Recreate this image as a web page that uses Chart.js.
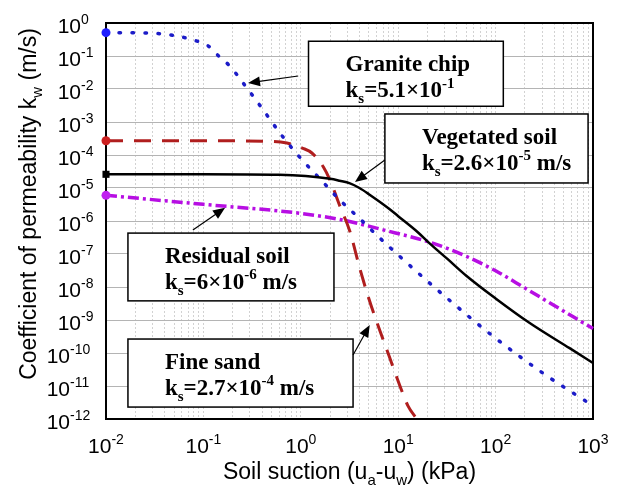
<!DOCTYPE html>
<html>
<head>
<meta charset="utf-8">
<title>Coefficient of permeability vs soil suction</title>
<script src="https://cdn.jsdelivr.net/npm/chart.js@4.4.1/dist/chart.umd.min.js"></script>
<style>
  body { margin: 0; background: #fff; }
  canvas { display: block; }
</style>
</head>
<body>
<canvas id="permChart" width="619" height="486"></canvas>
<script>
// suction in kPa, permeability in m/s
const graniteSuction = [0.01, 0.025, 0.05, 0.08, 0.11, 0.14, 0.19, 0.25, 0.4, 0.63, 1, 1.6, 2.5, 4, 6.3, 10, 32, 100, 316, 1000];
const granitePerm = [0.51, 0.50, 0.42, 0.30, 0.21, 0.107, 0.047, 0.0166, 0.0026, 4.1e-4, 7.9e-5, 1.8e-5, 4.4e-6, 1.2e-6, 3.3e-7, 9.3e-8, 4.5e-9, 2.8e-10, 2.3e-11, 2.5e-12];

const sandSuction = [0.01, 0.1, 0.5, 0.72, 1.05, 1.3, 1.7, 2.0, 2.5, 3.2, 4.0, 5.0, 6.3, 8.0, 10, 12.6, 15.5];
const sandPerm = [2.7e-4, 2.7e-4, 2.6e-4, 2.3e-4, 1.6e-4, 1.15e-4, 4.4e-5, 1.7e-5, 3.0e-6, 4.7e-7, 4.0e-8, 4.4e-9, 6.0e-10, 8.7e-11, 1.4e-11, 2.5e-12, 1.0e-12];

const vegSuction = [0.01, 0.1, 0.6, 2, 2.5, 3.2, 4, 5, 8, 10, 16, 21, 32, 50, 100, 224, 575, 1000];
const vegPerm = [2.6e-5, 2.6e-5, 2.5e-5, 1.9e-5, 1.66e-5, 1.38e-5, 1.0e-5, 6.5e-6, 2.4e-6, 1.4e-6, 4.5e-7, 2.1e-7, 7.1e-8, 2.2e-8, 4.5e-9, 8.1e-10, 1.4e-10, 5.0e-11];

const residualSuction = [0.01, 0.1, 1, 2.7, 7, 23, 50, 100, 200, 400, 1000];
const residualPerm = [6.0e-6, 3.2e-6, 1.7e-6, 1.07e-6, 5.4e-7, 2.1e-7, 8.5e-8, 3.1e-8, 9.3e-9, 2.75e-9, 5.5e-10];

const xTickExps = [-2, -1, 0, 1, 2, 3];
const yTickExps = [0, -1, -2, -3, -4, -5, -6, -7, -8, -9, -10, -11, -12];

const SANS = '"Liberation Sans", Arial, sans-serif';
const SERIF = '"Liberation Serif", "Times New Roman", serif';

// label boxes and arrows, placed in data units
const notes = [
    {
        box: [1.2, 0.28, 120, 3e-3], from: [0.94, 0.0248], to: [0.287, 0.0152],
        lines: [[{ t: 'Granite chip' }], [{ t: 'k' }, { t: 's', sub: true }, { t: '=5.1×10' }, { t: '-1', sup: true }]]
    },
    {
        box: [7.3, 1.75e-3, 890, 1.42e-5], from: [7.3, 7.1e-5], to: [3.6, 1.52e-5],
        lines: [[{ t: 'Vegetated soil' }], [{ t: 'k' }, { t: 's', sub: true }, { t: '=2.6×10' }, { t: '-5', sup: true }, { t: ' m/s' }]]
    },
    {
        box: [0.0168, 4.3e-7, 2.19, 3.8e-9], from: [0.078, 5.3e-7], to: [0.167, 2.5e-6],
        lines: [[{ t: 'Residual soil' }], [{ t: 'k' }, { t: 's', sub: true }, { t: '=6×10' }, { t: '-6', sup: true }, { t: ' m/s' }]]
    },
    {
        box: [0.0168, 2.65e-10, 3.44, 2.3e-12], from: [3.44, 8.7e-11], to: [5.1, 7.0e-10],
        lines: [[{ t: 'Fine sand' }], [{ t: 'k' }, { t: 's', sub: true }, { t: '=2.7×10' }, { t: '-4', sup: true }, { t: ' m/s' }]]
    }
];

function segFont(seg, size, weight, family) {
    const s = (seg.sub || seg.sup) ? Math.round(size * 0.65) : size;
    return `${weight} ${s}px ${family}`;
}

function richWidth(ctx, segs, size, weight, family) {
    return segs.reduce((w, seg) => {
        ctx.font = segFont(seg, size, weight, family);
        return w + ctx.measureText(seg.t).width;
    }, 0);
}

function drawRich(ctx, segs, x, y, size, weight, family) {
    segs.forEach(seg => {
        ctx.font = segFont(seg, size, weight, family);
        const dy = seg.sub ? size * 0.25 : seg.sup ? -size * 0.42 : 0;
        ctx.fillText(seg.t, x, y + dy);
        x += ctx.measureText(seg.t).width;
    });
}

function drawArrow(ctx, x1, y1, x2, y2) {
    const ang = Math.atan2(y2 - y1, x2 - x1);
    const len = 12, half = 5;
    const c = Math.cos(ang), s = Math.sin(ang);
    ctx.lineWidth = 1.2;
    ctx.beginPath();
    ctx.moveTo(x1, y1);
    ctx.lineTo(x2 - c * len * 0.8, y2 - s * len * 0.8);
    ctx.stroke();
    ctx.beginPath();
    ctx.moveTo(x2, y2);
    ctx.lineTo(x2 - c * len + s * half, y2 - s * len - c * half);
    ctx.lineTo(x2 - c * len - s * half, y2 - s * len + c * half);
    ctx.closePath();
    ctx.fill();
}

function isDecade(v) {
    const l = Math.log10(v);
    return Math.abs(l - Math.round(l)) < 1e-6;
}

function isWholeStep(v) {
    const m = v / Math.pow(10, Math.floor(Math.log10(v) + 1e-9));
    return Math.abs(m - Math.round(m)) < 1e-6;
}

const permDecor = {
    id: 'permDecor',
    beforeDatasetsDraw(chart) {
        const { ctx, chartArea: a } = chart;
        ctx.save();
        ctx.strokeStyle = '#000';
        ctx.lineWidth = 2;
        ctx.strokeRect(a.left, a.top, a.right - a.left, a.bottom - a.top);
        ctx.restore();
    },
    afterDatasetsDraw(chart) {
        const { ctx } = chart;
        const xs = chart.scales.x, ys = chart.scales.y;
        ctx.save();
        ctx.textBaseline = 'alphabetic';
        ctx.textAlign = 'left';
        notes.forEach(n => {
            const l = xs.getPixelForValue(n.box[0]);
            const t = ys.getPixelForValue(n.box[1]);
            const r = xs.getPixelForValue(n.box[2]);
            const b = ys.getPixelForValue(n.box[3]);
            ctx.fillStyle = '#fff';
            ctx.fillRect(l, t, r - l, b - t);
            ctx.strokeStyle = '#000';
            ctx.lineWidth = 1.5;
            ctx.strokeRect(l, t, r - l, b - t);
            ctx.fillStyle = '#000';
            n.lines.forEach((segs, i) => drawRich(ctx, segs, l + 37, t + 30 + i * 26, 23, 'bold', SERIF));
            drawArrow(ctx,
                xs.getPixelForValue(n.from[0]), ys.getPixelForValue(n.from[1]),
                xs.getPixelForValue(n.to[0]), ys.getPixelForValue(n.to[1]));
        });
        ctx.restore();
    },
    afterDraw(chart) {
        const { ctx, chartArea: a } = chart;
        const xs = chart.scales.x, ys = chart.scales.y;
        ctx.save();
        ctx.fillStyle = '#000';
        ctx.textBaseline = 'alphabetic';
        ctx.textAlign = 'left';

        ctx.font = `21px ${SANS}`;
        const w10 = ctx.measureText('10').width;
        yTickExps.forEach(e => {
            const py = ys.getPixelForValue(Math.pow(10, e));
            const x0 = a.left - 14 - w10 - 11 * String(Math.abs(e)).length;
            drawRich(ctx, [{ t: '10' }, { t: String(e), sup: true }], x0, py + 9.5, 21, 'normal', SANS);
        });
        xTickExps.forEach(e => {
            const px = xs.getPixelForValue(Math.pow(10, e));
            const segs = [{ t: '10' }, { t: String(e), sup: true }];
            const w = richWidth(ctx, segs, 21, 'normal', SANS);
            drawRich(ctx, segs, px - w / 2, a.bottom + 34, 21, 'normal', SANS);
        });

        const xTitle = [{ t: 'Soil suction (u' }, { t: 'a', sub: true }, { t: '-u' }, { t: 'w', sub: true }, { t: ') (kPa)' }];
        const xw = richWidth(ctx, xTitle, 23, 'normal', SANS);
        drawRich(ctx, xTitle, (a.left + a.right) / 2 - xw / 2, a.bottom + 60, 23, 'normal', SANS);

        const yTitle = [{ t: 'Coefficient of permeability k' }, { t: 'w', sub: true }, { t: ' (m/s)' }];
        const yw = richWidth(ctx, yTitle, 23, 'normal', SANS);
        ctx.translate(a.left - 70, (a.top + a.bottom) / 2 - 17);
        ctx.rotate(-Math.PI / 2);
        drawRich(ctx, yTitle, -yw / 2, 0, 23, 'normal', SANS);
        ctx.restore();
    }
};

function series(xs, ys, style) {
    return Object.assign({
        data: xs.map((x, i) => ({ x: x, y: ys[i] })),
        fill: false,
        clip: false,
        cubicInterpolationMode: 'monotone',
        pointRadius: c => (c.dataIndex === 0 ? 4.5 : 0),
        pointBorderWidth: 0
    }, style);
}

const permChart = new Chart(document.getElementById('permChart'), {
    type: 'line',
    data: {
        datasets: [
            series(vegSuction, vegPerm, {
                label: 'Vegetated soil',
                borderColor: '#000000', borderWidth: 2.5,
                pointBackgroundColor: '#000000', pointStyle: 'rect', pointRadius: c => (c.dataIndex === 0 ? 5 : 0)
            }),
            series(graniteSuction, granitePerm, {
                label: 'Granite chip',
                borderColor: '#1c1cc8', borderWidth: 3.5, borderDash: [1.5, 11.5], borderCapStyle: 'round',
                pointBackgroundColor: '#1e1eff'
            }),
            series(sandSuction, sandPerm, {
                label: 'Fine sand',
                borderColor: '#b01e1e', borderWidth: 3, borderDash: [17, 11],
                pointBackgroundColor: '#cc2020'
            }),
            series(residualSuction, residualPerm, {
                label: 'Residual soil',
                borderColor: '#b70ee3', borderWidth: 3.5, borderDash: [11, 4, 3, 4],
                pointBackgroundColor: '#c020f0'
            })
        ]
    },
    options: {
        responsive: false,
        animation: false,
        events: [],
        layout: { padding: { top: 23, right: 26, left: 0, bottom: 0 } },
        plugins: {
            legend: { display: false },
            tooltip: { enabled: false }
        },
        scales: {
            x: {
                type: 'logarithmic',
                min: 0.01,
                max: 1000,
                ticks: { display: false },
                grid: {
                    drawTicks: false,
                    lineWidth: 1,
                    color: c => (c.tick && isWholeStep(c.tick.value) ? '#d2d2d2' : 'rgba(0,0,0,0)')
                },
                border: { display: false, dash: [2, 2] },
                afterFit: s => { s.height = 67; }
            },
            y: {
                type: 'logarithmic',
                min: 1e-12,
                max: 1,
                ticks: { display: false },
                grid: {
                    drawTicks: false,
                    lineWidth: 1,
                    color: c => (c.tick && isDecade(c.tick.value) ? '#b4b4b4' : 'rgba(0,0,0,0)')
                },
                border: { display: false },
                afterFit: s => { s.width = 106; }
            }
        }
    },
    plugins: [permDecor]
});
</script>
</body>
</html>
